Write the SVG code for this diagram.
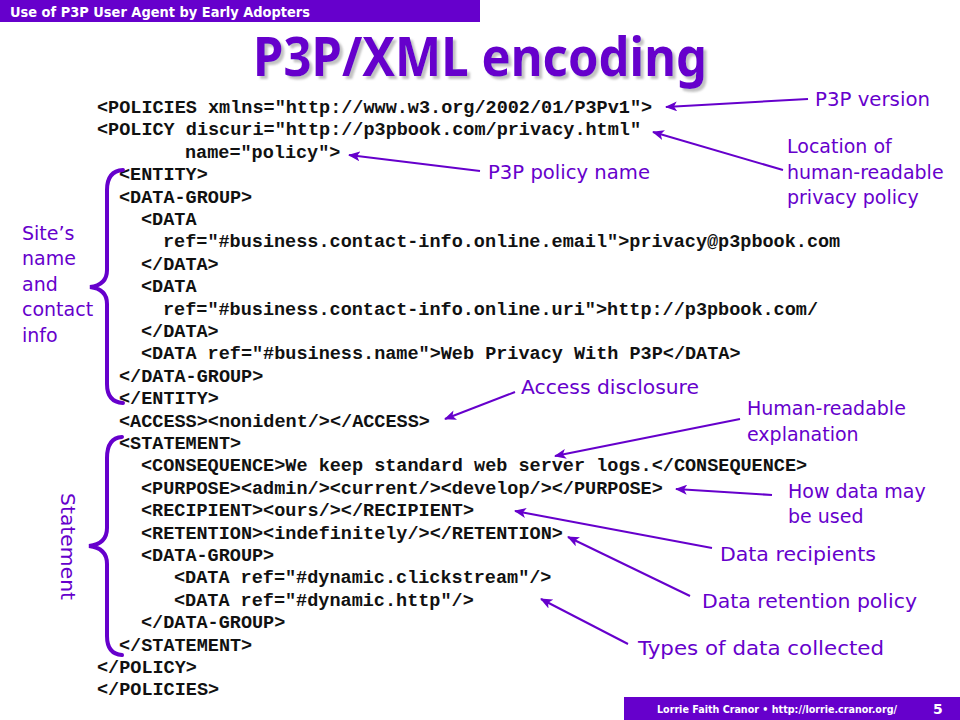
<svg xmlns="http://www.w3.org/2000/svg" width="960" height="720" viewBox="0 0 960 720">
<defs>
<style>
.code{font-family:"Liberation Mono","Courier New",monospace;font-weight:bold;font-size:18.5px;fill:#111}
.note{font-family:"DejaVu Sans","Noto Sans",sans-serif;font-size:19px;fill:#6600CC}
.conn{stroke:#6600CC;stroke-width:2;fill:none;marker-end:url(#ah)}
.brace{stroke:#6600CC;stroke-width:4;fill:none;stroke-linecap:round}
.bar{fill:#6600CC}
</style>
<marker id="ah" markerWidth="12" markerHeight="10" refX="11" refY="5" orient="auto" markerUnits="userSpaceOnUse">
<path d="M0,0 L12,5 L0,10 L3,5 Z" fill="#6600CC"/>
</marker>
<filter id="shadow" x="-5%" y="-20%" width="115%" height="150%">
<feDropShadow dx="3" dy="3" stdDeviation="1" flood-color="#999" flood-opacity="0.6"/>
</filter>
</defs>
<rect width="960" height="720" fill="#fff"/>
<g id="header">
<rect class="bar" x="0" y="0" width="480" height="22"/>
<text x="10" y="17" font-family="DejaVu Sans,sans-serif" font-weight="bold" font-size="14" fill="#fff" textLength="300" lengthAdjust="spacingAndGlyphs">Use of P3P User Agent by Early Adopters</text>
</g>
<g id="title">
<text x="253" y="76" font-family="Noto Sans,DejaVu Sans,sans-serif" font-weight="bold" font-size="54" fill="#6600CC" textLength="454" lengthAdjust="spacingAndGlyphs" filter="url(#shadow)">P3P/XML encoding</text>
</g>
<g id="code">
<text class="code">
<tspan x="97" y="113">&lt;POLICIES xmlns="http://www.w3.org/2002/01/P3Pv1"&gt;</tspan>
<tspan x="97" y="135.4">&lt;POLICY discuri="http://p3pbook.com/privacy.html"</tspan>
<tspan x="185" y="157.8">name="policy"&gt;</tspan>
<tspan x="119" y="180.2">&lt;ENTITY&gt;</tspan>
<tspan x="119" y="202.6">&lt;DATA-GROUP&gt;</tspan>
<tspan x="141" y="225">&lt;DATA</tspan>
<tspan x="163" y="247.4">ref="#business.contact-info.online.email"&gt;privacy@p3pbook.com</tspan>
<tspan x="141" y="269.8">&lt;/DATA&gt;</tspan>
<tspan x="141" y="292.2">&lt;DATA</tspan>
<tspan x="163" y="314.6">ref="#business.contact-info.online.uri"&gt;http://p3pbook.com/</tspan>
<tspan x="141" y="337">&lt;/DATA&gt;</tspan>
<tspan x="141" y="359.4">&lt;DATA ref="#business.name"&gt;Web Privacy With P3P&lt;/DATA&gt;</tspan>
<tspan x="119" y="381.8">&lt;/DATA-GROUP&gt;</tspan>
<tspan x="119" y="404.2">&lt;/ENTITY&gt;</tspan>
<tspan x="119" y="426.6">&lt;ACCESS&gt;&lt;nonident/&gt;&lt;/ACCESS&gt;</tspan>
<tspan x="119" y="449">&lt;STATEMENT&gt;</tspan>
<tspan x="141" y="471.4">&lt;CONSEQUENCE&gt;We keep standard web server logs.&lt;/CONSEQUENCE&gt;</tspan>
<tspan x="141" y="493.8">&lt;PURPOSE&gt;&lt;admin/&gt;&lt;current/&gt;&lt;develop/&gt;&lt;/PURPOSE&gt;</tspan>
<tspan x="141" y="516.2">&lt;RECIPIENT&gt;&lt;ours/&gt;&lt;/RECIPIENT&gt;</tspan>
<tspan x="141" y="538.6">&lt;RETENTION&gt;&lt;indefinitely/&gt;&lt;/RETENTION&gt;</tspan>
<tspan x="141" y="561">&lt;DATA-GROUP&gt;</tspan>
<tspan x="174" y="583.4">&lt;DATA ref="#dynamic.clickstream"/&gt;</tspan>
<tspan x="174" y="605.8">&lt;DATA ref="#dynamic.http"/&gt;</tspan>
<tspan x="141" y="628.2">&lt;/DATA-GROUP&gt;</tspan>
<tspan x="119" y="650.6">&lt;/STATEMENT&gt;</tspan>
<tspan x="97" y="673">&lt;/POLICY&gt;</tspan>
<tspan x="97" y="695.4">&lt;/POLICIES&gt;</tspan>
</text>
</g>
<g id="brace-entity">
<path class="brace" d="M123,170 Q107,171 107,190 L107,270 Q107,285 90,287 Q107,289 107,304 L107,384 Q107,402 123,403"/>
<text class="note"><tspan x="22" y="240">Site’s</tspan><tspan x="22" y="265">name</tspan><tspan x="22" y="291">and</tspan><tspan x="22" y="316">contact</tspan><tspan x="22" y="342">info</tspan></text>
</g>
<g id="brace-statement">
<path class="brace" d="M122,437 Q107,438 107,458 L107,528 Q107,544 89,546 Q107,548 107,564 L107,636 Q107,654 122,655"/>
<text class="note" transform="translate(61,493) rotate(90)" x="0" y="0" textLength="107" lengthAdjust="spacingAndGlyphs">Statement</text>
</g>
<g id="note-version"><text class="note" x="815" y="106" textLength="115" lengthAdjust="spacingAndGlyphs">P3P version</text></g>
<g id="note-location"><text class="note"><tspan x="787" y="153">Location of</tspan><tspan x="787" y="179">human-readable</tspan><tspan x="787" y="204">privacy policy</tspan></text></g>
<g id="note-name"><text class="note" x="488" y="179" textLength="162" lengthAdjust="spacingAndGlyphs">P3P policy name</text></g>
<g id="note-access"><text class="note" x="521" y="394" textLength="178" lengthAdjust="spacingAndGlyphs">Access disclosure</text></g>
<g id="note-explanation"><text class="note"><tspan x="747" y="415">Human-readable</tspan><tspan x="747" y="441">explanation</tspan></text></g>
<g id="note-purpose"><text class="note"><tspan x="788" y="498">How data may</tspan><tspan x="788" y="523">be used</tspan></text></g>
<g id="note-recipients"><text class="note" x="720" y="561" textLength="156" lengthAdjust="spacingAndGlyphs">Data recipients</text></g>
<g id="note-retention"><text class="note" x="702" y="608" textLength="215" lengthAdjust="spacingAndGlyphs">Data retention policy</text></g>
<g id="note-types"><text class="note" x="638" y="655" textLength="246" lengthAdjust="spacingAndGlyphs">Types of data collected</text></g>
<g id="connectors">
<line class="conn" x1="808" y1="99" x2="666" y2="107"/>
<line class="conn" x1="783" y1="170" x2="653" y2="132"/>
<line class="conn" x1="480" y1="171" x2="349" y2="155"/>
<line class="conn" x1="515" y1="392" x2="445" y2="419"/>
<line class="conn" x1="740" y1="419" x2="555" y2="456"/>
<line class="conn" x1="772" y1="495" x2="676" y2="489"/>
<line class="conn" x1="712" y1="548" x2="515" y2="511"/>
<line class="conn" x1="690" y1="596" x2="568" y2="537"/>
<line class="conn" x1="628" y1="644" x2="541" y2="599"/>
</g>
<g id="footer">
<rect class="bar" x="624" y="697" width="336" height="23"/>
<text x="657" y="713" font-family="DejaVu Sans,sans-serif" font-weight="bold" font-size="10.5" fill="#fff" textLength="240" lengthAdjust="spacingAndGlyphs">Lorrie Faith Cranor  •  http://lorrie.cranor.org/</text>
<text x="933" y="714" font-family="DejaVu Sans,sans-serif" font-weight="bold" font-size="14" fill="#fff">5</text>
</g>
</svg>
